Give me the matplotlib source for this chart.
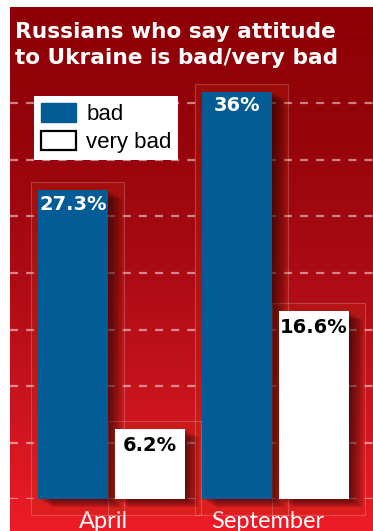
import matplotlib
matplotlib.use("Agg")
import matplotlib.pyplot as plt
import matplotlib.patches as mpatches
from matplotlib.colors import LinearSegmentedColormap
import numpy as np

months = ["April", "September"]
bad = [27.3, 36.0]
very_bad = [6.2, 16.6]
series_names = ["bad", "very bad"]
title_lines = ["Russians who say attitude", "to Ukraine is bad/very bad"]

W, H = 373, 531
fig = plt.figure(figsize=(W / 100, H / 100), dpi=100)
fig.patch.set_facecolor("white")

# red gradient panel
bg = fig.add_axes([10 / W, 0, 1 - 10 / W, (H - 7) / H])
grad = np.linspace(0, 1, 512).reshape(-1, 1)
cmap = LinearSegmentedColormap.from_list(
    "red", [(0, "#8e0005"), (0.25, "#96040a"), (0.5, "#ab0b14"), (0.75, "#c9141e"), (1, "#ee1c26")])
bg.imshow(grad, aspect="auto", cmap=cmap, extent=[0, 1, 0, 1], origin="upper")
bg.axis("off")

ppx = 164.0      # px per category unit
ppy = 11.32      # px per percent
base_px = 499.3
ax = fig.add_axes([10 / W, (H - base_px) / H, (W - 10) / W, 40 * ppy / H])
ax.set_facecolor("none")
ax.set_xlim((10 - 111.5) / ppx, (W - 111.5) / ppx)
ax.set_ylim(0, 40)

x = np.arange(len(months))
width = 70 / ppx
off = 38.5 / ppx
blue = "#035c96"

plt.rcParams["lines.scale_dashes"] = False
ax.set_yticks(np.arange(0, 40, 5))
ax.grid(axis="y", color="white", alpha=0.5, linewidth=1.6, linestyle=(0, (5.8, 5.8)))
ax.set_axisbelow(True)

def shadow(xc, h):
    # soft drop shadow + faint frame box behind each bar
    left = xc - width / 2
    box = (left - 7 / ppx, -16 / ppy)
    bw, bh = width + 23 / ppx, h + 24 / ppy
    ax.add_patch(mpatches.Rectangle(box, bw, bh, facecolor="#b83010", alpha=0.22,
                                    edgecolor="none", zorder=1.5, clip_on=False))
    ax.add_patch(mpatches.Rectangle(box, bw, bh, facecolor="none", edgecolor=(1, 1, 1, 0.2),
                                    lw=0.8, zorder=1.6, clip_on=False))
    for k in range(1, 10):
        ax.add_patch(mpatches.Rectangle((left + 1.6 * k / ppx, -0.9 * k / ppy), width, h,
                                        facecolor="black", alpha=0.07, lw=0, zorder=2,
                                        clip_on=False))

for i in range(len(months)):
    shadow(x[i] - off, bad[i])
    shadow(x[i] + off, very_bad[i])

b1 = ax.bar(x - off, bad, width, color=blue, zorder=3, label=series_names[0])
b2 = ax.bar(x + off, very_bad, width, color="white", zorder=3, label=series_names[1])

for i in range(len(months)):
    ax.annotate(f"{bad[i]:g}%", (x[i] - off, bad[i]), xytext=(0, -14 * 0.72), textcoords="offset points",
                ha="center", va="center", color="white", fontsize=14, fontweight="bold",
                family="DejaVu Sans", zorder=5)
    ax.annotate(f"{very_bad[i]:g}%", (x[i] + off, very_bad[i]), xytext=(0, -16.5 * 0.72),
                textcoords="offset points", ha="center", va="center", color="black", fontsize=14,
                fontweight="bold", family="DejaVu Sans", zorder=5)

ax.set_xticks(x - 0.05, months)
ax.tick_params(axis="both", length=0)
ax.tick_params(axis="x", pad=8.5, labelsize=17, labelcolor="white")
for lab in ax.get_xticklabels():
    lab.set_family("Lato")
ax.set_yticklabels([])
for s in ax.spines.values():
    s.set_visible(False)

# legend
h1 = mpatches.Patch(facecolor=blue, edgecolor=blue)
h2 = mpatches.Patch(facecolor="white", edgecolor="black", linewidth=1.6)
leg = ax.legend([h1, h2], series_names, loc="upper left", bbox_to_anchor=(34 / W, 1 - 96 / H),
                bbox_transform=fig.transFigure, borderaxespad=0, fancybox=False, framealpha=1,
                facecolor="white", edgecolor="none", prop={"family": "Liberation Sans", "size": 16},
                handlelength=1.6, handleheight=0.95, handletextpad=0.45, borderpad=0.3,
                labelspacing=0.28)
leg.set_zorder(6)

# title
for j, line in enumerate(title_lines):
    fig.text(15 / W, 1 - (37.7 + 26.3 * j) / H, line, color="white", fontsize=15.6,
             fontweight="bold", family="DejaVu Sans", va="baseline", ha="left")

fig.savefig("out.png", dpi=100)
